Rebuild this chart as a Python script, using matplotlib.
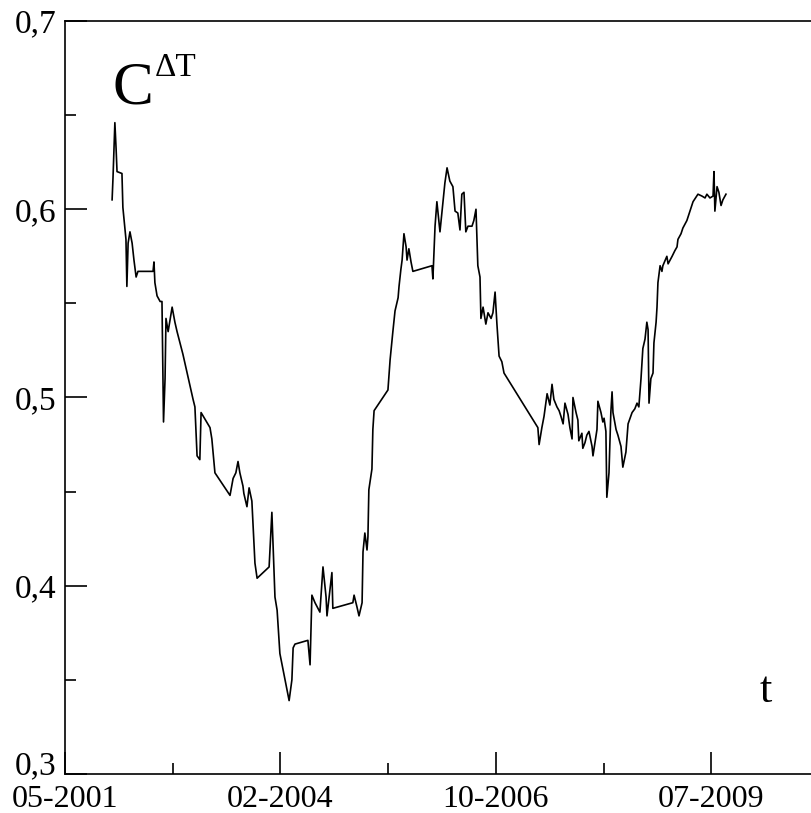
import matplotlib
matplotlib.use("Agg")
import matplotlib.pyplot as plt
from matplotlib.ticker import MultipleLocator, FixedLocator

# trading-day index (700 days per labelled tick) and correlation value
days = [153, 156, 162, 166, 169, 185, 188, 198, 201, 205, 211, 218, 224, 231, 237,
        286, 289, 292, 299, 309, 315, 318, 320, 325, 328, 335, 348, 357, 364, 383,
        416, 422, 429, 438, 442, 471, 477, 487, 536, 546, 555, 562, 568, 578, 581,
        591, 598, 607, 617, 624, 663, 672, 676, 682, 689, 698, 715, 728, 737, 741,
        747, 789, 796, 802, 812, 828, 838, 848, 851, 867, 870, 935, 939, 948, 955,
        965, 968, 974, 981, 984, 987, 997, 1000, 1004, 1049, 1056, 1065, 1072, 1082, 1085,
        1091, 1095, 1101, 1108, 1111, 1117, 1124, 1130, 1192, 1195, 1202, 1208, 1218, 1228, 1234,
        1241, 1250, 1260, 1267, 1276, 1283, 1289, 1296, 1302, 1309, 1322, 1328, 1335, 1341, 1348,
        1351, 1358, 1367, 1374, 1384, 1390, 1397, 1403, 1410, 1419, 1426, 1536, 1540, 1549, 1556,
        1566, 1575, 1582, 1588, 1598, 1605, 1611, 1618, 1624, 1634, 1640, 1647, 1650, 1660, 1666,
        1669, 1679, 1682, 1689, 1695, 1702, 1712, 1715, 1728, 1731, 1741, 1747, 1751, 1757, 1760,
        1767, 1773, 1777, 1780, 1790, 1796, 1806, 1812, 1822, 1829, 1842, 1851, 1858, 1864, 1871,
        1877, 1884, 1890, 1894, 1897, 1903, 1910, 1913, 1920, 1923, 1926, 1933, 1939, 1942, 1955,
        1959, 1972, 1981, 1988, 1991, 2001, 2007, 2020, 2024, 2036, 2040, 2056, 2069, 2079, 2085,
        2095, 2105, 2108, 2111, 2118, 2124, 2131, 2137, 2147]
corr = [0.605, 0.617, 0.646, 0.632, 0.620, 0.619, 0.601, 0.584, 0.559, 0.582, 0.588, 0.582, 0.573, 0.564, 0.567,
        0.567, 0.572, 0.561, 0.554, 0.551, 0.551, 0.510, 0.487, 0.510, 0.542, 0.535, 0.548, 0.540, 0.535, 0.523,
        0.499, 0.495, 0.469, 0.467, 0.492, 0.484, 0.478, 0.460, 0.448, 0.457, 0.460, 0.466, 0.460, 0.453, 0.449,
        0.442, 0.452, 0.445, 0.412, 0.404, 0.410, 0.439, 0.421, 0.394, 0.387, 0.364, 0.350, 0.339, 0.350, 0.367,
        0.369, 0.371, 0.358, 0.395, 0.391, 0.386, 0.410, 0.394, 0.384, 0.407, 0.388, 0.391, 0.395, 0.389, 0.384,
        0.391, 0.418, 0.428, 0.419, 0.426, 0.451, 0.462, 0.483, 0.493, 0.504, 0.520, 0.535, 0.546, 0.553, 0.559,
        0.568, 0.573, 0.587, 0.580, 0.573, 0.579, 0.572, 0.567, 0.570, 0.563, 0.591, 0.604, 0.588, 0.604, 0.614,
        0.622, 0.615, 0.612, 0.599, 0.598, 0.589, 0.608, 0.609, 0.588, 0.591, 0.591, 0.594, 0.600, 0.570, 0.564,
        0.542, 0.548, 0.539, 0.545, 0.542, 0.545, 0.556, 0.539, 0.522, 0.519, 0.513, 0.484, 0.475, 0.484, 0.490,
        0.502, 0.496, 0.507, 0.499, 0.495, 0.493, 0.490, 0.486, 0.497, 0.491, 0.484, 0.478, 0.500, 0.492, 0.488,
        0.477, 0.481, 0.473, 0.476, 0.480, 0.482, 0.474, 0.469, 0.483, 0.498, 0.492, 0.487, 0.489, 0.482, 0.447,
        0.460, 0.492, 0.503, 0.492, 0.483, 0.480, 0.474, 0.463, 0.471, 0.486, 0.492, 0.494, 0.497, 0.495, 0.510,
        0.526, 0.531, 0.540, 0.536, 0.497, 0.510, 0.513, 0.529, 0.540, 0.548, 0.561, 0.570, 0.567, 0.570, 0.575,
        0.571, 0.575, 0.578, 0.580, 0.584, 0.587, 0.590, 0.594, 0.596, 0.602, 0.604, 0.608, 0.607, 0.606, 0.608,
        0.606, 0.607, 0.620, 0.599, 0.612, 0.609, 0.602, 0.605, 0.608]

xtick_pos = [0, 700, 1400, 2100]
xtick_labels = ['05-2001', '02-2004', '10-2006', '07-2009']
ytick_pos = [0.3, 0.4, 0.5, 0.6, 0.7]
ytick_labels = ['0,3', '0,4', '0,5', '0,6', '0,7']

plt.rcParams['font.family'] = 'Liberation Serif'

fig = plt.figure(figsize=(8.12, 8.13), dpi=100)
# axes runs past the right edge of the figure, as in the cropped original
ax = fig.add_axes([65 / 812, 39 / 813, 862 / 812, 753 / 813])
ax.plot(days, corr, color='black', lw=1.2)

ax.set_xlim(0, 2800)
ax.set_ylim(0.3, 0.7)
ax.xaxis.set_major_locator(FixedLocator(xtick_pos))
ax.set_xticklabels(xtick_labels)
ax.xaxis.set_minor_locator(MultipleLocator(350))
ax.yaxis.set_major_locator(FixedLocator(ytick_pos))
ax.set_yticklabels(ytick_labels)
ax.yaxis.set_minor_locator(MultipleLocator(0.05))

ax.tick_params(which='both', direction='in', top=False, right=False, width=1.2)
ax.tick_params(which='major', length=16)
ax.tick_params(which='minor', length=8)
ax.tick_params(axis='y', pad=6, labelsize=24)
ax.tick_params(axis='x', pad=8, labelsize=23)
# the lowest y label sits on the axis line, just above the first date
ax.get_yticklabels()[0].set_verticalalignment('baseline')
for s in ['left', 'bottom', 'top']:
    ax.spines[s].set_linewidth(1.2)
ax.spines['right'].set_visible(False)

fig.text(113 / 812, 1 - 104 / 813, 'C', fontsize=44, ha='left', va='baseline')
fig.text(155 / 812, 1 - 76 / 813, 'ΔT', fontsize=24, ha='left', va='baseline')
fig.text(766 / 812, 1 - 702 / 813, 't', fontsize=32, ha='center', va='baseline')

fig.savefig('out.png', dpi=100)
